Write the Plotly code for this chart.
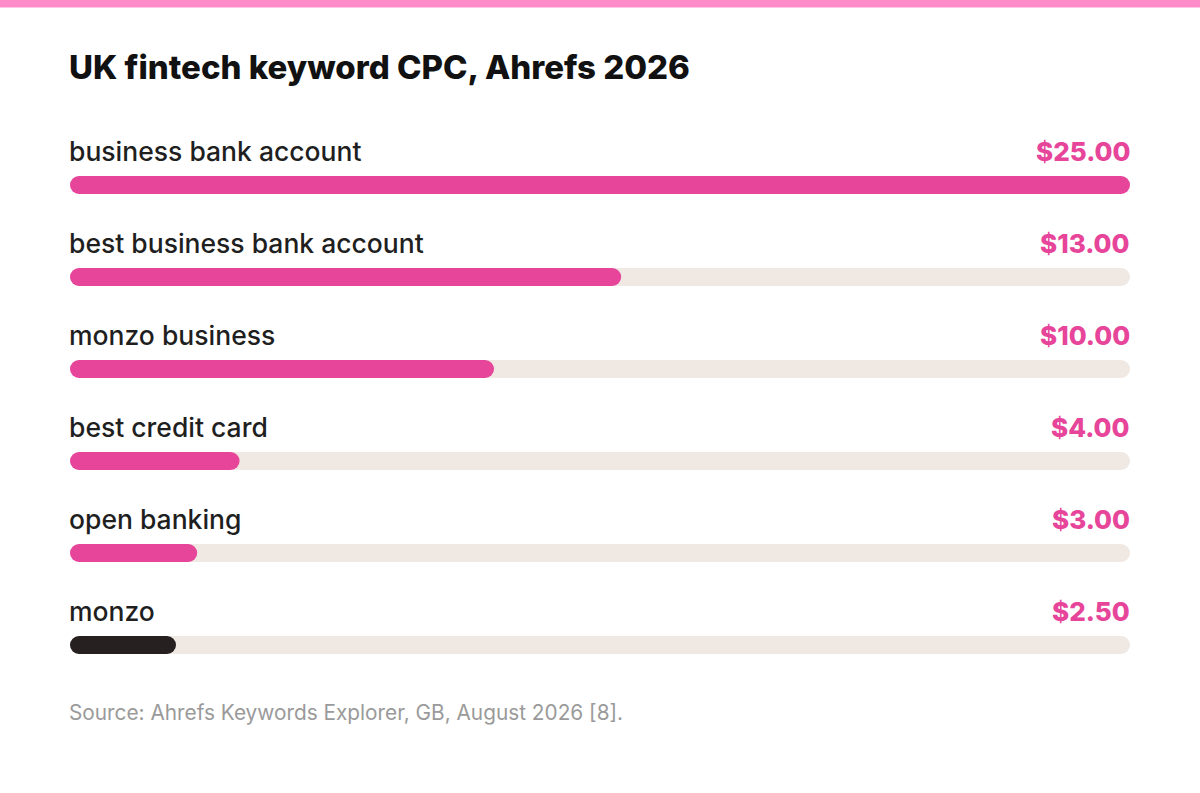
import plotly.graph_objects as go

# Data
keywords = ["business bank account", "best business bank account", "monzo business",
            "best credit card", "open banking", "monzo"]
cpc = [25.00, 13.00, 10.00, 4.00, 3.00, 2.50]
value_labels = ["$25.00", "$13.00", "$10.00", "$4.00", "$3.00", "$2.50"]
max_cpc = 25.0

pink = "#E6459A"
dark = "#262021"
track = "#F0E8E2"
bar_colors = [pink] * 5 + [dark]

FONT = "Inter"
BAR_W = 0.196
CAP_PX = 18                       # bar thickness / end cap diameter, px
r_d = (CAP_PX / 2) * max_cpc / 1060   # cap radius in data units (plot is 1060 px wide)

fig = go.Figure()
track_vals = [max_cpc] * len(keywords)

# background track (body with square ends + round caps), on x
fig.add_trace(go.Bar(y=keywords, x=[v - 2 * r_d for v in track_vals], base=r_d, orientation="h",
                     marker=dict(color=track, line_width=0), width=BAR_W, hoverinfo="skip"))
fig.add_trace(go.Scatter(y=keywords + keywords, x=[r_d] * 6 + [v - r_d for v in track_vals],
                         mode="markers", hoverinfo="skip",
                         marker=dict(size=CAP_PX, color=track, line_width=0)))

# value bars on x2 (overlaying x) so they sit above the track caps
fig.add_trace(go.Bar(y=keywords, x=[v - 2 * r_d for v in cpc], base=r_d, orientation="h",
                     xaxis="x2", marker=dict(color=bar_colors, line_width=0),
                     width=BAR_W, hoverinfo="skip"))
fig.add_trace(go.Scatter(y=keywords + keywords, x=[r_d] * 6 + [v - r_d for v in cpc],
                         mode="markers", hoverinfo="skip", xaxis="x2",
                         marker=dict(size=CAP_PX, color=bar_colors + bar_colors, line_width=0)))

# labels above the bars
for k, lab in zip(keywords, value_labels):
    fig.add_annotation(x=0, y=k, xref="x", yref="y", text=k, showarrow=False,
                       xanchor="left", yanchor="middle", yshift=34, xshift=-3,
                       font=dict(family=FONT, size=26.5, color="#1f1f1f", weight=500))
    fig.add_annotation(x=max_cpc, y=k, xref="x", yref="y", text=lab, showarrow=False,
                       xanchor="right", yanchor="middle", yshift=34, xshift=2,
                       font=dict(family=FONT, size=26, color=pink, weight=800))

fig.add_annotation(x=70 / 1200, y=1 - 67 / 793, xref="paper", yref="paper",
                   text="UK fintech keyword CPC, Ahrefs 2026", showarrow=False,
                   xanchor="left", yanchor="middle", xshift=-3,
                   font=dict(family=FONT, size=33, color="#111111", weight=800))
fig.add_annotation(x=70 / 1200, y=1 - 712 / 793, xref="paper", yref="paper",
                   text="Source: Ahrefs Keywords Explorer, GB, August 2026 [8].", showarrow=False,
                   xanchor="left", yanchor="middle", xshift=-3,
                   font=dict(family=FONT, size=20.8, color="#9a9a9a"))

# top stripe
fig.add_shape(type="rect", xref="paper", yref="paper", x0=0, x1=1,
              y0=1 - 7.5 / 793, y1=1, fillcolor="#FF8CC8", line_width=0, layer="above")

xdom = [70 / 1200, 1130 / 1200]
fig.update_layout(
    width=1200, height=793,
    margin=dict(l=0, r=0, t=0, b=0),
    paper_bgcolor="white", plot_bgcolor="white",
    barmode="overlay", showlegend=False,
    xaxis=dict(range=[0, max_cpc], domain=xdom, visible=False, fixedrange=True),
    xaxis2=dict(range=[0, max_cpc], domain=xdom, overlaying="x", visible=False, fixedrange=True),
    yaxis=dict(categoryorder="array", categoryarray=keywords, range=[5.5, -0.5],
               domain=[1 - 691 / 793, 1 - 139 / 793], visible=False, fixedrange=True),
)

fig.write_html("out.html", config={"displayModeBar": False},
               post_script="document.body.style.margin='0px';")
